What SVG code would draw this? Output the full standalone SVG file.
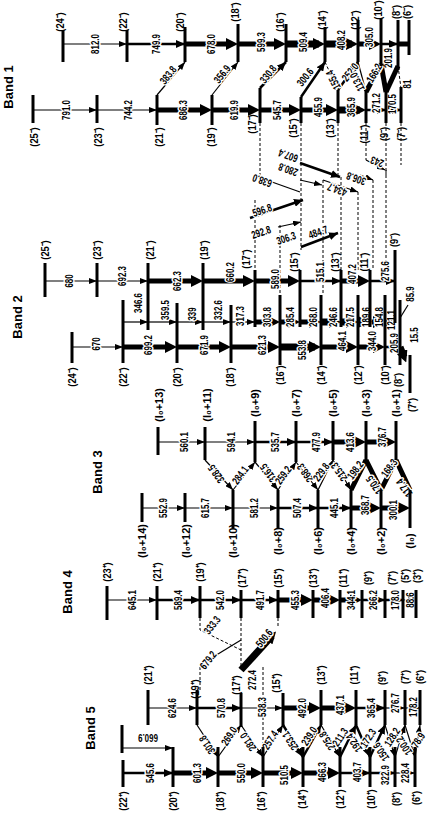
<svg xmlns="http://www.w3.org/2000/svg" width="427" height="815" viewBox="0 0 427 815">
<defs>
<style>
.lv{stroke:#000;stroke-width:3;fill:none}
.t1{stroke:#000;stroke-width:1.2;fill:none}
.t2{stroke:#000;stroke-width:2.5;fill:none}
.t3{stroke:#000;stroke-width:5;fill:none}
.t4{stroke:#000;stroke-width:7;fill:none}
.dl{stroke:#000;stroke-width:1;stroke-dasharray:3 2;fill:none}
text{font-family:"Liberation Sans",Arial,sans-serif;font-weight:bold;font-size:11px;text-anchor:middle;dominant-baseline:central;fill:#000}
.h{stroke:#fff;stroke-width:3;paint-order:stroke;stroke-linejoin:round}
.bt{font-size:13px}
</style>
<marker id="s" viewBox="0 0 8 6" refX="8" refY="3" markerWidth="8" markerHeight="6" orient="auto" markerUnits="userSpaceOnUse"><path d="M0 0L8 3L0 6z"/></marker>
<marker id="m" viewBox="0 0 9 8" refX="9" refY="4" markerWidth="9" markerHeight="8" orient="auto" markerUnits="userSpaceOnUse"><path d="M0 0L9 4L0 8z"/></marker>
<marker id="b" viewBox="0 0 12 12" refX="6" refY="6" markerWidth="12" markerHeight="12" orient="auto" markerUnits="userSpaceOnUse"><path d="M0 0L12 6L0 12z"/></marker>
</defs>
<rect width="427" height="815" fill="#fff"/>

<g id="titles">
<text class="bt" transform="matrix(0 -1 1 0 8 87)">Band 1</text>
<text class="bt" transform="matrix(0 -1 1 0 17 317)">Band 2</text>
<text class="bt" transform="matrix(0 -1 1 0 97 472)">Band 3</text>
<text class="bt" transform="matrix(0 -1 1 0 67 592)">Band 4</text>
<text class="bt" transform="matrix(0 -1 1 0 90 728)">Band 5</text>
</g>

<g id="connectors">
<path class="t1" d="M63 44H127" marker-end="url(#s)"/>
<path class="t2" d="M127 44H185" marker-end="url(#m)"/>
<path class="t3" d="M185 44H232" marker-end="url(#b)"/>
<path class="t3" d="M238 44H280" marker-end="url(#b)"/>
<path class="t4" d="M286 44H319" marker-end="url(#b)"/>
<path class="t4" d="M325 44H352" marker-end="url(#b)"/>
<path class="t3" d="M358 44H375" marker-end="url(#b)"/>
<path class="t2" d="M381 44H398" marker-end="url(#m)"/>
<path class="t3" d="M398 44H409"/>
<text class="h" transform="matrix(0 -.72 1 0 95 44)">812.0</text>
<text class="h" transform="matrix(0 -.72 1 0 156 44)">749.9</text>
<text class="h" transform="matrix(0 -.72 1 0 211 44)">678.0</text>
<text class="h" transform="matrix(0 -.72 1 0 261 42)">599.3</text>
<text class="h" transform="matrix(0 -.72 1 0 303 42)">509.4</text>
<text class="h" transform="matrix(0 -.72 1 0 341 40)">408.2</text>
<text class="h" transform="matrix(0 -.72 1 0 369 37)">305.0</text>
<text class="h" transform="matrix(0 -.72 1 0 388 58)">201.9</text>
<path class="t1" d="M33 110H97" marker-end="url(#s)"/>
<path class="t1" d="M97 110H157" marker-end="url(#s)"/>
<path class="t3" d="M157 110H206" marker-end="url(#b)"/>
<path class="t3" d="M212 110H254" marker-end="url(#b)"/>
<path class="t3" d="M260 110H295" marker-end="url(#b)"/>
<path class="t3" d="M301 110H332" marker-end="url(#b)"/>
<path class="t4" d="M338 110H360" marker-end="url(#b)"/>
<path class="t2" d="M366 110H386" marker-end="url(#m)"/>
<path class="t2" d="M386 110H401" marker-end="url(#m)"/>
<text class="h" transform="matrix(0 -.72 1 0 66 110)">791.0</text>
<text class="h" transform="matrix(0 -.72 1 0 128 110)">744.2</text>
<text class="h" transform="matrix(0 -.72 1 0 183 110)">686.3</text>
<text class="h" transform="matrix(0 -.72 1 0 234 110)">619.9</text>
<text class="h" transform="matrix(0 -.72 1 0 277 110)">545.7</text>
<text class="h" transform="matrix(0 -.72 1 0 318 107)">455.9</text>
<text class="h" transform="matrix(0 -.72 1 0 351 107)">365.9</text>
<text class="h" transform="matrix(0 -.72 1 0 376 103)">271.2</text>
<text class="h" transform="matrix(0 -.72 1 0 392 104)">170.5</text>
<path class="t1" d="M157 95L185 62" marker-end="url(#s)"/>
<path class="t1" d="M212 95L238 62" marker-end="url(#s)"/>
<path class="t2" d="M260 88L286 62" marker-end="url(#m)"/>
<path class="t2" d="M301 97L325 62" marker-end="url(#m)"/>
<path class="t2" d="M338 90L358 62" marker-end="url(#m)"/>
<path class="dl" d="M325 62L338 90"/>
<path class="t1" d="M358 62L366 92"/>
<path class="t3" d="M366 92L381 64"/>
<path class="t3" d="M381 64L386 92"/>
<path class="t3" d="M386 92L398 66"/>
<path class="dl" d="M398 66L401 88"/>
<text class="h" transform="matrix(.443 -.567 .788 .616 168 75)">383.8</text>
<text class="h" transform="matrix(.443 -.567 .788 .616 222 74)">356.9</text>
<text class="h" transform="matrix(.443 -.567 .788 .616 268 74)">330.8</text>
<text class="h" transform="matrix(.443 -.567 .788 .616 305 77)">300.6</text>
<text class="h" transform="matrix(.443 -.567 .788 .616 350 72)">252.0</text>
<text class="h" transform="matrix(-.32 -.65 .9 -.44 333 80)">155.4</text>
<text class="h" transform="matrix(-.32 -.65 .9 -.44 357 82)">113.0</text>
<text class="h" transform="matrix(.37 -.62 .86 .51 374 73)">166.2</text>
<text class="h" transform="matrix(0 -.72 1 0 407 84)">81</text>

<path class="dl" d="M260 123V177M301 123V250M338 123V175M366 123V160M386 123V175M401 123V165"/>
<path class="dl" d="M255 200V270M280 225V295M323 180V295M341 177V270M358 192V270M373 180V270M386 170V263"/>
<path class="t1" d="M258 177L300 192"/>
<path class="t1" d="M300 180L322 185" marker-end="url(#s)"/>
<path class="t2" d="M300 163L340 177" marker-end="url(#m)"/>
<path class="t1" d="M323 180L358 192" marker-end="url(#s)"/>
<path class="t1" d="M360 175L373 180" marker-end="url(#s)"/>
<path class="t1" d="M366 160L385 170" marker-end="url(#s)"/>
<path class="t2" d="M250 218L303 200" marker-end="url(#m)"/>
<path class="t1" d="M278 227L301 222" marker-end="url(#s)"/>
<path class="t2" d="M301 247L338 233" marker-end="url(#m)"/>
<text class="h" transform="matrix(-.678 -.243 .337 -.941 262 181)">638.0</text>
<text class="h" transform="matrix(-.678 -.243 .337 -.941 288 170)">280.8</text>
<text class="h" transform="matrix(-.678 -.243 .337 -.941 288 156)">607.4</text>
<text class="h" transform="matrix(-.678 -.243 .337 -.941 337 190)">434.7</text>
<text class="h" transform="matrix(-.678 -.243 .337 -.941 356 179)">306.8</text>
<text class="h" transform="matrix(-.678 -.243 .337 -.941 377 162)">243</text>
<text class="h" transform="matrix(.682 -.232 .322 .947 262 210)">596.8</text>
<text class="h" transform="matrix(.682 -.232 .322 .947 261 232)">292.8</text>
<text class="h" transform="matrix(.682 -.232 .322 .947 286 238)">306.3</text>
<text class="h" transform="matrix(.682 -.232 .322 .947 318 232)">484.7</text>

<path class="t1" d="M45 281H97" marker-end="url(#s)"/>
<path class="t1" d="M97 281H148" marker-end="url(#s)"/>
<path class="t3" d="M148 281H197" marker-end="url(#b)"/>
<path class="t3" d="M203 281H249" marker-end="url(#b)"/>
<path class="t3" d="M255 281H294" marker-end="url(#b)"/>
<path class="t2" d="M300 281H341" marker-end="url(#m)"/>
<path class="t3" d="M341 281H364" marker-end="url(#b)"/>
<path class="t2" d="M370 281H395" marker-end="url(#m)"/>
<text class="h" transform="matrix(0 -.72 1 0 69 281)">680</text>
<text class="h" transform="matrix(0 -.72 1 0 122 276)">692.3</text>
<text class="h" transform="matrix(0 -.72 1 0 177 281)">662.3</text>
<text class="h" transform="matrix(0 -.72 1 0 230 272)">660.2</text>
<text class="h" transform="matrix(0 -.72 1 0 275 279)">589.0</text>
<text class="h" transform="matrix(0 -.72 1 0 320 272)">515.1</text>
<text class="h" transform="matrix(0 -.72 1 0 352 274)">407.2</text>
<text class="h" transform="matrix(0 -.72 1 0 385 271)">275.6</text>
<path class="t1" d="M123 322H148" marker-end="url(#s)"/>
<path class="t1" d="M148 322H177" marker-end="url(#s)"/>
<path class="t1" d="M177 322H203" marker-end="url(#s)"/>
<path class="t1" d="M203 322H231" marker-end="url(#s)"/>
<path class="t1" d="M231 322H255" marker-end="url(#s)"/>
<path class="t3" d="M255 322H274" marker-end="url(#b)"/>
<path class="t3" d="M280 322H294" marker-end="url(#b)"/>
<path class="t3" d="M300 322H315" marker-end="url(#b)"/>
<path class="t4" d="M321 322H335" marker-end="url(#b)"/>
<path class="t4" d="M341 322H352" marker-end="url(#b)"/>
<path class="t4" d="M358 322H364" marker-end="url(#b)"/>
<path class="t3" d="M370 322H379" marker-end="url(#b)"/>
<path class="t2" d="M385 322H395" marker-end="url(#m)"/>
<path class="t1" d="M400 318L408 305"/>
<text class="h" transform="matrix(0 -.72 1 0 138 303)">346.6</text>
<text class="h" transform="matrix(0 -.72 1 0 165 310)">359.5</text>
<text class="h" transform="matrix(0 -.72 1 0 192 314)">339</text>
<text class="h" transform="matrix(0 -.72 1 0 218 310)">332.6</text>
<text class="h" transform="matrix(0 -.72 1 0 240 316)">317.3</text>
<text class="h" transform="matrix(0 -.72 1 0 267 317)">303.8</text>
<text class="h" transform="matrix(0 -.72 1 0 290 317)">285.4</text>
<text class="h" transform="matrix(0 -.72 1 0 313 317)">268.0</text>
<text class="h" transform="matrix(0 -.72 1 0 333 317)">246.6</text>
<text class="h" transform="matrix(0 -.72 1 0 350 317)">217.5</text>
<text class="h" transform="matrix(0 -.72 1 0 366 317)">189.6</text>
<text class="h" transform="matrix(0 -.72 1 0 379 317)">154.8</text>
<text class="h" transform="matrix(0 -.72 1 0 391 320)">121.1</text>
<text class="h" transform="matrix(0 -.72 1 0 410 294)">85.9</text>
<path class="t1" d="M72 347H123" marker-end="url(#s)"/>
<path class="t3" d="M123 347H171" marker-end="url(#b)"/>
<path class="t3" d="M177 347H225" marker-end="url(#b)"/>
<path class="t3" d="M231 347H274" marker-end="url(#b)"/>
<path class="t4" d="M280 347H315" marker-end="url(#b)"/>
<path class="t3" d="M321 347H352" marker-end="url(#b)"/>
<path class="t3" d="M358 347H379" marker-end="url(#b)"/>
<path class="t2" d="M385 347H400" marker-end="url(#m)"/>
<path class="t4" d="M400 347L404 357" marker-end="url(#b)"/>
<text class="h" transform="matrix(0 -.72 1 0 96 344)">670</text>
<text class="h" transform="matrix(0 -.72 1 0 148 345)">699.2</text>
<text class="h" transform="matrix(0 -.72 1 0 204 345)">671.9</text>
<text class="h" transform="matrix(0 -.72 1 0 262 345)">621.3</text>
<text class="h" transform="matrix(0 -.72 1 0 302 350)">553.8</text>
<text class="h" transform="matrix(0 -.72 1 0 342 341)">464.1</text>
<text class="h" transform="matrix(0 -.72 1 0 372 341)">344.0</text>
<text class="h" transform="matrix(0 -.72 1 0 394 343)">205.9</text>
<text class="h" transform="matrix(0 -.72 1 0 414 335)">15.5</text>

<path class="t1" d="M158 442H205" marker-end="url(#s)"/>
<path class="t1" d="M205 442H255" marker-end="url(#s)"/>
<path class="t2" d="M255 442H296" marker-end="url(#m)"/>
<path class="t2" d="M296 442H333" marker-end="url(#m)"/>
<path class="t3" d="M333 442H360" marker-end="url(#b)"/>
<path class="t3" d="M366 442H390" marker-end="url(#b)"/>
<text class="h" transform="matrix(0 -.72 1 0 184 442)">560.1</text>
<text class="h" transform="matrix(0 -.72 1 0 231 442)">594.1</text>
<text class="h" transform="matrix(0 -.72 1 0 275 442)">535.7</text>
<text class="h" transform="matrix(0 -.72 1 0 316 442)">477.9</text>
<text class="h" transform="matrix(0 -.72 1 0 350 442)">413.6</text>
<text class="h" transform="matrix(0 -.72 1 0 382 437)">376.7</text>
<path class="t1" d="M142 508H185" marker-end="url(#s)"/>
<path class="t1" d="M185 508H233" marker-end="url(#s)"/>
<path class="t1" d="M233 508H278" marker-end="url(#s)"/>
<path class="t2" d="M278 508H318" marker-end="url(#m)"/>
<path class="t2" d="M318 508H351" marker-end="url(#m)"/>
<path class="t3" d="M351 508H375" marker-end="url(#b)"/>
<path class="t3" d="M381 508H404" marker-end="url(#b)"/>
<text class="h" transform="matrix(0 -.72 1 0 163 508)">552.9</text>
<text class="h" transform="matrix(0 -.72 1 0 205 508)">615.7</text>
<text class="h" transform="matrix(0 -.72 1 0 254 508)">581.2</text>
<text class="h" transform="matrix(0 -.72 1 0 297 508)">507.4</text>
<text class="h" transform="matrix(0 -.72 1 0 334 508)">445.1</text>
<text class="h" transform="matrix(0 -.72 1 0 365 505)">368.7</text>
<text class="h" transform="matrix(0 -.72 1 0 393 510)">300.1</text>
<path class="t1" d="M205 460L233 490" marker-end="url(#s)"/>
<path class="t1" d="M233 490L255 462" marker-end="url(#s)"/>
<path class="t1" d="M255 462L278 490" marker-end="url(#s)"/>
<path class="t1" d="M278 490L296 462" marker-end="url(#s)"/>
<path class="t1" d="M296 462L318 490" marker-end="url(#s)"/>
<path class="t1" d="M318 490L333 460" marker-end="url(#s)"/>
<path class="t1" d="M333 460L351 490" marker-end="url(#s)"/>
<path class="t3" d="M351 490L366 460"/>
<path class="t3" d="M366 460L381 490"/>
<path class="t3" d="M381 490L396 460"/>
<path class="t3" d="M396 460L410 490"/>
<text class="h" transform="matrix(-.423 -.582 .809 -.588 216 474)">328.5</text>
<text class="h" transform="matrix(.423 -.582 .809 .588 240 475)">284.1</text>
<text class="h" transform="matrix(-.423 -.582 .809 -.588 268 473)">316.5</text>
<text class="h" transform="matrix(.423 -.582 .809 .588 283 475)">259.2</text>
<text class="h" transform="matrix(-.423 -.582 .809 -.588 305 473)">268.3</text>
<text class="h" transform="matrix(.423 -.582 .809 .588 321 472)">229.8</text>
<text class="h" transform="matrix(-.423 -.582 .809 -.588 339 472)">215.3</text>
<text class="h" transform="matrix(.423 -.582 .809 .588 355 470)">198.2</text>
<text class="h" transform="matrix(-.423 -.582 .809 -.588 374 485)">170.5</text>
<text class="h" transform="matrix(.423 -.582 .809 .588 389 468)">168.3</text>
<text class="h" transform="matrix(-.423 -.582 .809 -.588 404 488)">117.4</text>

<path class="t1" d="M107 600H157" marker-end="url(#s)"/>
<path class="t2" d="M157 600H200" marker-end="url(#m)"/>
<path class="t2" d="M200 600H241" marker-end="url(#m)"/>
<path class="t2" d="M241 600H278" marker-end="url(#m)"/>
<path class="t3" d="M278 600H307" marker-end="url(#b)"/>
<path class="t3" d="M313 600H334" marker-end="url(#b)"/>
<path class="t3" d="M340 600H356" marker-end="url(#b)"/>
<path class="t2" d="M362 600H385" marker-end="url(#m)"/>
<path class="t2" d="M385 600H403" marker-end="url(#m)"/>
<path class="t1" d="M403 600H416" marker-end="url(#s)"/>
<text class="h" transform="matrix(0 -.72 1 0 132 600)">645.1</text>
<text class="h" transform="matrix(0 -.72 1 0 178 600)">589.4</text>
<text class="h" transform="matrix(0 -.72 1 0 220 600)">542.0</text>
<text class="h" transform="matrix(0 -.72 1 0 260 600)">491.7</text>
<text class="h" transform="matrix(0 -.72 1 0 295 600)">455.3</text>
<text class="h" transform="matrix(0 -.72 1 0 325 598)">406.4</text>
<text class="h" transform="matrix(0 -.72 1 0 351 600)">344.1</text>
<text class="h" transform="matrix(0 -.72 1 0 373 600)">266.2</text>
<text class="h" transform="matrix(0 -.72 1 0 395 600)">178.0</text>
<text class="h" transform="matrix(0 -.72 1 0 410 600)">88.6</text>
<path class="dl" d="M200 618V630L241 650M241 618V668M278 618V627M200 667V690M263 667V757"/>
<path class="t1" d="M200 665L241 640"/>
<path class="t4" d="M241 670L272 636" marker-end="url(#b)"/>
<text class="h" transform="matrix(.443 -.567 .788 .616 212 625)">333.3</text>
<text class="h" transform="matrix(.443 -.567 .788 .616 208 660)">679.2</text>
<text class="h" transform="matrix(.443 -.567 .788 .616 264 638)">500.6</text>
<text class="h" transform="matrix(0 -.72 1 0 252 680)">272.4</text>

<path class="t1" d="M148 708H197" marker-end="url(#s)"/>
<path class="t2" d="M197 708H241" marker-end="url(#m)"/>
<path class="t1" d="M241 708H283" marker-end="url(#s)"/>
<path class="t3" d="M283 708H315" marker-end="url(#b)"/>
<path class="t3" d="M321 708H350" marker-end="url(#b)"/>
<path class="t2" d="M356 708H385" marker-end="url(#m)"/>
<path class="t1" d="M385 708H405" marker-end="url(#s)"/>
<path class="t1" d="M405 708H420" marker-end="url(#s)"/>
<text class="h" transform="matrix(0 -.72 1 0 172 708)">624.6</text>
<text class="h" transform="matrix(0 -.72 1 0 221 708)">570.8</text>
<text class="h" transform="matrix(0 -.72 1 0 262 707)">538.3</text>
<text class="h" transform="matrix(0 -.72 1 0 302 708)">492.0</text>
<text class="h" transform="matrix(0 -.72 1 0 340 705)">437.1</text>
<text class="h" transform="matrix(0 -.72 1 0 371 708)">365.4</text>
<text class="h" transform="matrix(0 -.72 1 0 395 703)">276.7</text>
<text class="h" transform="matrix(0 -.72 1 0 413 707)">178.2</text>
<path class="t2" d="M123 773H173" marker-end="url(#m)"/>
<path class="t3" d="M173 773H212" marker-end="url(#b)"/>
<path class="t3" d="M218 773H257" marker-end="url(#b)"/>
<path class="t3" d="M263 773H297" marker-end="url(#b)"/>
<path class="t3" d="M303 773H334" marker-end="url(#b)"/>
<path class="t2" d="M340 773H370" marker-end="url(#m)"/>
<path class="t2" d="M370 773H395" marker-end="url(#m)"/>
<path class="t1" d="M395 773H415" marker-end="url(#s)"/>
<path class="t1" d="M122 748H173" marker-end="url(#s)"/>
<text class="h" transform="matrix(0 -.72 1 0 150 773)">545.6</text>
<text class="h" transform="matrix(0 -.72 1 0 197 773)">601.3</text>
<text class="h" transform="matrix(0 -.72 1 0 241 773)">550.0</text>
<text class="h" transform="matrix(0 -.72 1 0 284 775)">510.5</text>
<text class="h" transform="matrix(0 -.72 1 0 322 772)">466.3</text>
<text class="h" transform="matrix(0 -.72 1 0 357 772)">403.7</text>
<text class="h" transform="matrix(0 -.72 1 0 385 775)">322.9</text>
<text class="h" transform="matrix(0 -.72 1 0 405 773)">228.4</text>
<text transform="matrix(-.72 0 0 -1 148 738)">660.9</text>
<path class="t1" d="M197 725L218 757" marker-end="url(#s)"/>
<path class="t1" d="M218 757L241 725" marker-end="url(#s)"/>
<path class="t1" d="M241 725L263 757" marker-end="url(#s)"/>
<path class="t1" d="M263 757L283 725" marker-end="url(#s)"/>
<path class="t2" d="M283 725L303 757" marker-end="url(#m)"/>
<path class="t2" d="M303 757L321 725" marker-end="url(#m)"/>
<path class="t1" d="M321 725L340 757" marker-end="url(#s)"/>
<path class="t2" d="M340 757L356 725" marker-end="url(#m)"/>
<path class="t2" d="M356 725L370 757" marker-end="url(#m)"/>
<path class="t2" d="M370 757L385 725" marker-end="url(#m)"/>
<path class="t1" d="M385 725L395 757" marker-end="url(#s)"/>
<path class="t1" d="M395 757L405 725" marker-end="url(#s)"/>
<path class="t1" d="M405 725L415 757" marker-end="url(#s)"/>
<path class="t1" d="M415 757L420 725" marker-end="url(#s)"/>
<text class="h" transform="matrix(-.392 -.604 .839 -.545 207 745)">301.8</text>
<text class="h" transform="matrix(.392 -.604 .839 .545 229 736)">269.0</text>
<text class="h" transform="matrix(-.392 -.604 .839 -.545 248 742)">281.0</text>
<text class="h" transform="matrix(.392 -.604 .839 .545 270 740)">257.4</text>
<text class="h" transform="matrix(-.392 -.604 .839 -.545 290 741)">253.1</text>
<text class="h" transform="matrix(.392 -.604 .839 .545 309 736)">239.0</text>
<text class="h" transform="matrix(-.392 -.604 .839 -.545 327 741)">225.8</text>
<text class="h" transform="matrix(.392 -.604 .839 .545 340 737)">211.3</text>
<text class="h" transform="matrix(-.392 -.604 .839 -.545 354 743)">192.4</text>
<text class="h" transform="matrix(.392 -.604 .839 .545 368 738)">172.3</text>
<text class="h" transform="matrix(-.392 -.604 .839 -.545 381 752)">150.6</text>
<text class="h" transform="matrix(.392 -.604 .839 .545 392 737)">128.2</text>
<text class="h" transform="matrix(-.392 -.604 .839 -.545 404 746)">100.2</text>
<text class="h" transform="matrix(.392 -.604 .839 .545 418 740)">78.9</text>
</g>

<g id="band1">
<g id="b1-24"><path class="lv" d="M63 30V62"/><text transform="matrix(0 -.85 1 0 60 22)">(24⁻)</text></g>
<g id="b1-22"><path class="lv" d="M127 30V62"/><text transform="matrix(0 -.85 1 0 123 22)">(22⁻)</text></g>
<g id="b1-20"><path class="lv" d="M185 27V62"/><text transform="matrix(0 -.85 1 0 180 22)">(20⁻)</text></g>
<g id="b1-18"><path class="lv" d="M238 24V62"/><text transform="matrix(0 -.85 1 0 235 12)">(18⁻)</text></g>
<g id="b1-16"><path class="lv" d="M286 24V62"/><text transform="matrix(0 -.85 1 0 280 22)">(16⁻)</text></g>
<g id="b1-14"><path class="lv" d="M325 27V62"/><text transform="matrix(0 -.85 1 0 322 20)">(14⁻)</text></g>
<g id="b1-12"><path class="lv" d="M358 20V62"/><text transform="matrix(0 -.85 1 0 355 20)">(12⁻)</text></g>
<g id="b1-10"><path class="lv" d="M381 18V66"/><text transform="matrix(0 -.85 1 0 378 10)">(10⁻)</text></g>
<g id="b1-8"><path class="lv" d="M398 20V70"/><text transform="matrix(0 -.85 1 0 396 12)">(8⁻)</text></g>
<g id="b1-6"><path class="lv" d="M409 20V55"/><text transform="matrix(0 -.85 1 0 407 12)">(6⁻)</text></g>
<g id="b1-25"><path class="lv" d="M33 95V123"/><text transform="matrix(0 -.85 1 0 34 137)">(25⁻)</text></g>
<g id="b1-23"><path class="lv" d="M97 95V123"/><text transform="matrix(0 -.85 1 0 98 137)">(23⁻)</text></g>
<g id="b1-21"><path class="lv" d="M157 95V125"/><text transform="matrix(0 -.85 1 0 159 137)">(21⁻)</text></g>
<g id="b1-19"><path class="lv" d="M212 95V125"/><text transform="matrix(0 -.85 1 0 211 137)">(19⁻)</text></g>
<g id="b1-17"><path class="lv" d="M260 88V123"/><text transform="matrix(0 -.85 1 0 252 124)">(17⁻)</text></g>
<g id="b1-15"><path class="lv" d="M301 97V123"/><text transform="matrix(0 -.85 1 0 293 128)">(15⁻)</text></g>
<g id="b1-13"><path class="lv" d="M338 90V123"/><text transform="matrix(0 -.85 1 0 330 128)">(13⁻)</text></g>
<g id="b1-11"><path class="lv" d="M366 90V123"/><text transform="matrix(0 -.85 1 0 364 134)">(11⁻)</text></g>
<g id="b1-9"><path class="lv" d="M386 90V123"/><text transform="matrix(0 -.85 1 0 384 134)">(9⁻)</text></g>
<g id="b1-7"><path class="lv" d="M401 87V123"/><text transform="matrix(0 -.85 1 0 401 134)">(7⁻)</text></g>
</g>

<g id="band2">
<g id="b2-25"><path class="lv" d="M45 263V297"/><text transform="matrix(0 -.85 1 0 45 250)">(25⁻)</text></g>
<g id="b2-23"><path class="lv" d="M97 263V297"/><text transform="matrix(0 -.85 1 0 97 250)">(23⁻)</text></g>
<g id="b2-21"><path class="lv" d="M148 263V330"/><text transform="matrix(0 -.85 1 0 150 250)">(21⁻)</text></g>
<g id="b2-19"><path class="lv" d="M203 263V330"/><text transform="matrix(0 -.85 1 0 204 250)">(19⁻)</text></g>
<g id="b2-17"><path class="lv" d="M255 270V327"/><text transform="matrix(0 -.85 1 0 246 259)">(17⁻)</text></g>
<g id="b2-15"><path class="lv" d="M300 270V327"/><text transform="matrix(0 -.85 1 0 294 262)">(15⁻)</text></g>
<g id="b2-13"><path class="lv" d="M341 270V327"/><text transform="matrix(0 -.85 1 0 335 262)">(13⁻)</text></g>
<g id="b2-11"><path class="lv" d="M370 270V327"/><text transform="matrix(0 -.85 1 0 364 262)">(11⁻)</text></g>
<g id="b2-9"><path class="lv" d="M395 250V323"/><text transform="matrix(0 -.85 1 0 394 240)">(9⁻)</text></g>
<g id="b2-24"><path class="lv" d="M72 332V363"/><text transform="matrix(0 -.85 1 0 72 377)">(24⁻)</text></g>
<g id="b2-22"><path class="lv" d="M123 300V363"/><text transform="matrix(0 -.85 1 0 123 377)">(22⁻)</text></g>
<g id="b2-20"><path class="lv" d="M177 303V363"/><text transform="matrix(0 -.85 1 0 177 377)">(20⁻)</text></g>
<g id="b2-18"><path class="lv" d="M231 305V363"/><text transform="matrix(0 -.85 1 0 230 377)">(18⁻)</text></g>
<g id="b2-16"><path class="lv" d="M280 295V365"/><text transform="matrix(0 -.85 1 0 280 375)">(16⁻)</text></g>
<g id="b2-14"><path class="lv" d="M321 295V365"/><text transform="matrix(0 -.85 1 0 321 375)">(14⁻)</text></g>
<g id="b2-12"><path class="lv" d="M358 295V365"/><text transform="matrix(0 -.85 1 0 358 375)">(12⁻)</text></g>
<g id="b2-10"><path class="lv" d="M385 295V365"/><text transform="matrix(0 -.85 1 0 385 375)">(10⁻)</text></g>
<g id="b2-8"><path class="lv" d="M400 300V365"/><text transform="matrix(0 -.85 1 0 398 380)">(8⁻)</text></g>
<g id="b2-7p"><path class="lv" d="M410 355V393"/><text transform="matrix(0 -.85 1 0 412 405)">(7⁺)</text></g>
</g>

<g id="band3">
<g id="b3-13"><path class="lv" d="M158 427V455"/><text transform="matrix(0 -1 1 0 159 405)">(I₀+13)</text></g>
<g id="b3-11"><path class="lv" d="M205 427V460"/><text transform="matrix(0 -1 1 0 207 405)">(I₀+11)</text></g>
<g id="b3-9"><path class="lv" d="M255 421V462"/><text transform="matrix(0 -1 1 0 255 403)">(I₀+9)</text></g>
<g id="b3-7"><path class="lv" d="M296 421V462"/><text transform="matrix(0 -1 1 0 296 403)">(I₀+7)</text></g>
<g id="b3-5"><path class="lv" d="M333 421V460"/><text transform="matrix(0 -1 1 0 333 403)">(I₀+5)</text></g>
<g id="b3-3"><path class="lv" d="M366 421V460"/><text transform="matrix(0 -1 1 0 366 403)">(I₀+3)</text></g>
<g id="b3-1"><path class="lv" d="M396 421V460"/><text transform="matrix(0 -1 1 0 396 403)">(I₀+1)</text></g>
<g id="b3-14"><path class="lv" d="M142 493V522"/><text transform="matrix(0 -1 1 0 142 541)">(I₀+14)</text></g>
<g id="b3-12"><path class="lv" d="M185 493V522"/><text transform="matrix(0 -1 1 0 186 541)">(I₀+12)</text></g>
<g id="b3-10"><path class="lv" d="M233 490V528"/><text transform="matrix(0 -1 1 0 233 541)">(I₀+10)</text></g>
<g id="b3-8"><path class="lv" d="M278 490V528"/><text transform="matrix(0 -1 1 0 278 541)">(I₀+8)</text></g>
<g id="b3-6"><path class="lv" d="M318 490V528"/><text transform="matrix(0 -1 1 0 318 541)">(I₀+6)</text></g>
<g id="b3-4"><path class="lv" d="M351 490V528"/><text transform="matrix(0 -1 1 0 351 541)">(I₀+4)</text></g>
<g id="b3-2"><path class="lv" d="M381 490V528"/><text transform="matrix(0 -1 1 0 381 541)">(I₀+2)</text></g>
<g id="b3-0"><path class="lv" d="M410 490V528"/><text transform="matrix(0 -1 1 0 410 541)">(I₀)</text></g>
</g>

<g id="band4">
<g id="b4-23"><path class="lv" d="M107 586V620"/><text transform="matrix(0 -.85 1 0 107 572)">(23⁺)</text></g>
<g id="b4-21"><path class="lv" d="M157 586V620"/><text transform="matrix(0 -.85 1 0 157 572)">(21⁺)</text></g>
<g id="b4-19"><path class="lv" d="M200 586V618"/><text transform="matrix(0 -.85 1 0 200 572)">(19⁺)</text></g>
<g id="b4-17"><path class="lv" d="M241 590V618"/><text transform="matrix(0 -.85 1 0 242 578)">(17⁺)</text></g>
<g id="b4-15"><path class="lv" d="M278 590V618"/><text transform="matrix(0 -.85 1 0 278 578)">(15⁺)</text></g>
<g id="b4-13"><path class="lv" d="M313 590V618"/><text transform="matrix(0 -.85 1 0 313 578)">(13⁺)</text></g>
<g id="b4-11"><path class="lv" d="M340 590V618"/><text transform="matrix(0 -.85 1 0 343 578)">(11⁺)</text></g>
<g id="b4-9"><path class="lv" d="M362 590V618"/><text transform="matrix(0 -.85 1 0 368 578)">(9⁺)</text></g>
<g id="b4-7"><path class="lv" d="M385 590V618"/><text transform="matrix(0 -.85 1 0 392 578)">(7⁺)</text></g>
<g id="b4-5"><path class="lv" d="M403 590V618"/><text transform="matrix(0 -.85 1 0 405 576)">(5⁺)</text></g>
<g id="b4-3"><path class="lv" d="M416 590V618"/><text transform="matrix(0 -.85 1 0 417 576)">(3⁺)</text></g>
</g>

<g id="band5">
<g id="b5-21"><path class="lv" d="M148 690V725"/><text transform="matrix(0 -.85 1 0 148 675)">(21⁺)</text></g>
<g id="b5-19"><path class="lv" d="M197 690V725"/><text transform="matrix(0 -.85 1 0 195 689)">(19⁺)</text></g>
<g id="b5-17"><path class="lv" d="M241 693V727"/><text transform="matrix(0 -.85 1 0 236 685)">(17⁺)</text></g>
<g id="b5-15"><path class="lv" d="M283 693V727"/><text transform="matrix(0 -.85 1 0 276 683)">(15⁺)</text></g>
<g id="b5-13"><path class="lv" d="M321 690V725"/><text transform="matrix(0 -.85 1 0 321 675)">(13⁺)</text></g>
<g id="b5-11"><path class="lv" d="M356 690V725"/><text transform="matrix(0 -.85 1 0 354 675)">(11⁺)</text></g>
<g id="b5-9"><path class="lv" d="M385 690V725"/><text transform="matrix(0 -.85 1 0 382 678)">(9⁺)</text></g>
<g id="b5-7"><path class="lv" d="M405 690V725"/><text transform="matrix(0 -.85 1 0 405 677)">(7⁺)</text></g>
<g id="b5-6u"><path class="lv" d="M420 690V725"/><text transform="matrix(0 -.85 1 0 420 677)">(6⁺)</text></g>
<g id="b5-22"><path class="lv" d="M123 760V787"/><text transform="matrix(0 -.85 1 0 123 801)">(22⁺)</text></g>
<g id="b5-20"><path class="lv" d="M173 747V787"/><text transform="matrix(0 -.85 1 0 173 801)">(20⁺)</text></g>
<g id="b5-x"><path class="lv" d="M122 725V753"/></g>
<g id="b5-18"><path class="lv" d="M218 747V787"/><text transform="matrix(0 -.85 1 0 220 801)">(18⁺)</text></g>
<g id="b5-16"><path class="lv" d="M263 747V787"/><text transform="matrix(0 -.85 1 0 261 801)">(16⁺)</text></g>
<g id="b5-14"><path class="lv" d="M303 747V787"/><text transform="matrix(0 -.85 1 0 302 799)">(14⁺)</text></g>
<g id="b5-12"><path class="lv" d="M340 747V787"/><text transform="matrix(0 -.85 1 0 340 799)">(12⁺)</text></g>
<g id="b5-10"><path class="lv" d="M370 747V787"/><text transform="matrix(0 -.85 1 0 371 799)">(10⁺)</text></g>
<g id="b5-8"><path class="lv" d="M395 747V787"/><text transform="matrix(0 -.85 1 0 396 799)">(8⁺)</text></g>
<g id="b5-6"><path class="lv" d="M415 747V787"/><text transform="matrix(0 -.85 1 0 416 798)">(6⁺)</text></g>
</g>
</svg>
